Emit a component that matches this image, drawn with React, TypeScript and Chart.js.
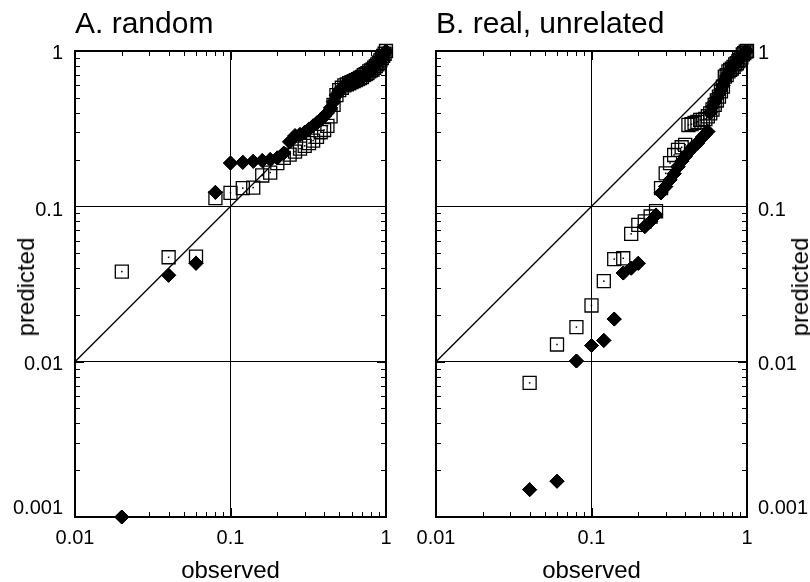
import React, { useEffect, useRef } from "react";
import { Chart, registerables } from "chart.js";

Chart.register(...registerables);

// ---------- data ----------
const observedRandom = [
  0.02, 0.04, 0.06, 0.08, 0.1, 0.12, 0.14, 0.16, 0.18, 0.2,
  0.22, 0.24, 0.26, 0.28, 0.3, 0.32, 0.34, 0.36, 0.38, 0.4,
  0.42, 0.44, 0.46, 0.48, 0.5, 0.52, 0.54, 0.56, 0.58, 0.6,
  0.62, 0.64, 0.66, 0.68, 0.7, 0.72, 0.74, 0.76, 0.78, 0.8,
  0.82, 0.84, 0.86, 0.88, 0.9, 0.92, 0.94, 0.96, 0.98, 1.0,
];
const randomSquares = [
  0.038, 0.047, 0.0475, 0.113, 0.122, 0.131, 0.132, 0.158, 0.165, 0.19,
  0.205, 0.215, 0.225, 0.235, 0.245, 0.255, 0.265, 0.28, 0.3, 0.31,
  0.33, 0.38, 0.45, 0.52, 0.56, 0.58, 0.6, 0.61, 0.62, 0.63,
  0.64, 0.65, 0.66, 0.67, 0.68, 0.7, 0.71, 0.72, 0.74, 0.75,
  0.76, 0.78, 0.8, 0.82, 0.84, 0.87, 0.9, 0.93, 0.96, 1.0,
];
const randomDiamonds = [
  0.001, 0.036, 0.043, 0.123, 0.19, 0.192, 0.195, 0.197, 0.2, 0.205,
  0.22, 0.26, 0.285, 0.29, 0.3, 0.315, 0.33, 0.345, 0.36, 0.38,
  0.4, 0.43, 0.47, 0.52, 0.55, 0.58, 0.6, 0.61, 0.62, 0.63,
  0.64, 0.65, 0.66, 0.67, 0.68, 0.7, 0.71, 0.72, 0.74, 0.75,
  0.77, 0.79, 0.81, 0.83, 0.85, 0.88, 0.91, 0.94, 0.97, 1.0,
];

const observedReal = [
  0.04, 0.06, 0.08, 0.1, 0.12, 0.14, 0.16, 0.18, 0.2,
  0.22, 0.24, 0.26, 0.28, 0.3, 0.32, 0.34, 0.36, 0.38, 0.4,
  0.42, 0.44, 0.46, 0.48, 0.5, 0.52, 0.54, 0.56, 0.58, 0.6,
  0.62, 0.64, 0.66, 0.68, 0.7, 0.72, 0.74, 0.76, 0.78, 0.8,
  0.82, 0.84, 0.86, 0.88, 0.9, 0.92, 0.94, 0.96, 0.98, 1.0,
];
const realSquares = [
  0.0073, 0.0129, 0.0167, 0.023, 0.033, 0.0457, 0.0463, 0.0665, 0.076,
  0.08, 0.086, 0.093, 0.131, 0.163, 0.19, 0.214, 0.231, 0.24, 0.249,
  0.334, 0.338, 0.345, 0.35, 0.36, 0.36, 0.365, 0.38, 0.397, 0.42,
  0.45, 0.48, 0.508, 0.55, 0.59, 0.684, 0.7, 0.74, 0.755, 0.77,
  0.79, 0.82, 0.834, 0.86, 0.88, 0.91, 0.95, 0.97, 0.99, 1.0,
];
const realDiamonds = [
  0.0015, 0.0017, 0.0101, 0.0127, 0.0137, 0.0188, 0.0372, 0.04, 0.043,
  0.074, 0.08, 0.088, 0.122, 0.134, 0.148, 0.162, 0.18, 0.195, 0.209,
  0.222, 0.237, 0.245, 0.255, 0.268, 0.281, 0.292, 0.303, 0.4, 0.438,
  0.47, 0.5, 0.53, 0.561, 0.6, 0.651, 0.69, 0.72, 0.755, 0.78,
  0.8, 0.834, 0.85, 0.87, 0.89, 0.92, 0.95, 0.97, 0.99, 1.0,
];

const diagonal = [0.01, 1];

const xMin = 0.01;
const xMax = 1;
const yMin = 0.001;
const yMax = 1;
const xTicks = [0.01, 0.1, 1];
const xTickLabels = ["0.01", "0.1", "1"];
const yTicks = [0.001, 0.01, 0.1, 1];
const yTickLabels = ["0.001", "0.01", "0.1", "1"];
const xMinorDecades = [0.01, 0.1];
const yMinorDecades = [0.001, 0.01, 0.1];
const xGridValues = [0.1];
const yGridValues = [0.01, 0.1];
const minorSteps = [2, 3, 4, 5, 6, 7, 8, 9];

const titleA = "A. random";
const titleB = "B. real, unrelated";
const xTitle = "observed";
const yTitle = "predicted";

const FONT = "'Liberation Sans', Arial, Helvetica, sans-serif";
const TICK_FONT_SIZE = 20;

// ---------- plugins ----------
function makeFramePlugin(side: "left" | "right") {
  // vertical nudge of each y tick label, in the order of yTicks
  const labelNudge = [-9, 3, 4, 2];
  return {
    id: "frameTicks",
    afterDatasetsDraw(chart: any) {
      const { ctx, chartArea } = chart;
      const { left, right, top, bottom } = chartArea;
      const xs = chart.scales.x;
      const ys = chart.scales.y;
      ctx.save();
      ctx.strokeStyle = "#000";
      ctx.lineWidth = 1;
      const major = 9;
      const minor = 5;
      ctx.beginPath();
      for (const v of xTicks) {
        const px = Math.round(xs.getPixelForValue(v)) + 0.5;
        ctx.moveTo(px, bottom); ctx.lineTo(px, bottom - major);
        ctx.moveTo(px, top); ctx.lineTo(px, top + major);
      }
      for (const d of xMinorDecades) {
        for (const m of minorSteps) {
          const v = d * m;
          if (v < xMin || v > xMax) continue;
          const q = Math.round(xs.getPixelForValue(v)) + 0.5;
          ctx.moveTo(q, bottom); ctx.lineTo(q, bottom - minor);
          ctx.moveTo(q, top); ctx.lineTo(q, top + minor);
        }
      }
      for (const v of yTicks) {
        const py = Math.round(ys.getPixelForValue(v)) + 0.5;
        ctx.moveTo(left, py); ctx.lineTo(left + major, py);
        ctx.moveTo(right, py); ctx.lineTo(right - major, py);
      }
      for (const d of yMinorDecades) {
        for (const m of minorSteps) {
          const v = d * m;
          if (v < yMin || v > yMax) continue;
          const q = Math.round(ys.getPixelForValue(v)) + 0.5;
          ctx.moveTo(left, q); ctx.lineTo(left + minor, q);
          ctx.moveTo(right, q); ctx.lineTo(right - minor, q);
        }
      }
      ctx.stroke();
      ctx.lineWidth = 2;
      ctx.strokeRect(left, top, right - left, bottom - top);

      // y tick labels
      ctx.fillStyle = "#000";
      ctx.font = `${TICK_FONT_SIZE}px ${FONT}`;
      ctx.textBaseline = "middle";
      ctx.textAlign = side === "left" ? "right" : "left";
      const lx = side === "left" ? left - 12 : right + 11;
      yTicks.forEach((v, i) => {
        const py = ys.getPixelForValue(v) + labelNudge[i];
        ctx.fillText(yTickLabels[i], lx, py);
      });
      ctx.restore();
    },
    afterDraw(chart: any) {
      const meta = chart.getDatasetMeta(1);
      const { ctx } = chart;
      ctx.save();
      ctx.fillStyle = "#000";
      meta.data.forEach((pt: any) => {
        ctx.fillRect(pt.x - 0.75, pt.y - 0.75, 1.5, 1.5);
      });
      chart.getDatasetMeta(0).data.forEach((pt: any) => pt.draw(ctx, chart.chartArea));
      ctx.restore();
    },
  };
}

function makeConfig(
  obs: number[],
  squares: number[],
  diamonds: number[],
  side: "left" | "right"
) {
  const tickFont = { family: FONT, size: TICK_FONT_SIZE };
  return {
    type: "scatter" as const,
    data: {
      datasets: [
        {
          label: "diamonds",
          data: obs.map((x, i) => ({ x, y: diamonds[i] })),
          pointStyle: "rectRot",
          pointRadius: 7,
          backgroundColor: "#000",
          borderColor: "#000",
          borderWidth: 1,
          clip: false,
        },
        {
          label: "squares",
          data: obs.map((x, i) => ({ x, y: squares[i] })),
          pointStyle: "rect",
          pointRadius: 9.2,
          backgroundColor: "rgba(0,0,0,0)",
          borderColor: "#000",
          borderWidth: 1.3,
          clip: false,
        },
        {
          label: "diagonal",
          data: diagonal.map((v) => ({ x: v, y: v })),
          showLine: true,
          pointRadius: 0,
          borderColor: "#000",
          borderWidth: 1.3,
          fill: false,
        },
      ],
    },
    options: {
      animation: false,
      responsive: false,
      maintainAspectRatio: false,
      events: [],
      layout: {
        padding: side === "left"
          ? { top: 51, right: 19, left: 0, bottom: 0 }
          : { top: 51, right: 0, left: 31, bottom: 0 },
      },
      plugins: {
        legend: { display: false },
        tooltip: { enabled: false },
        title: { display: false },
      },
      scales: {
        x: {
          type: "logarithmic",
          position: "bottom",
          min: xMin,
          max: xMax,
          afterBuildTicks: (s: any) => {
            s.ticks = xTicks.map((v) => ({ value: v }));
          },
          afterFit: (s: any) => {
            s.height = 65;
          },
          ticks: {
            autoSkip: false,
            maxRotation: 0,
            color: "#000",
            font: tickFont,
            padding: 9,
            callback: (_v: any, i: number) => xTickLabels[i],
          },
          grid: {
            drawTicks: false,
            lineWidth: 1,
            color: (c: any) =>
              c.tick && xGridValues.includes(c.tick.value) ? "#000" : "rgba(0,0,0,0)",
          },
          border: { display: false },
        },
        y: {
          type: "logarithmic",
          position: side,
          min: yMin,
          max: yMax,
          afterBuildTicks: (s: any) => {
            s.ticks = yTicks.map((v) => ({ value: v }));
          },
          afterFit: (s: any) => {
            s.width = side === "left" ? 75 : 63;
          },
          ticks: {
            display: false,
          },
          grid: {
            drawTicks: false,
            lineWidth: 1,
            color: (c: any) =>
              c.tick && yGridValues.includes(c.tick.value) ? "#000" : "rgba(0,0,0,0)",
          },
          border: { display: false },
        },
      },
    },
    plugins: [makeFramePlugin(side)],
  };
}

function Panel(props: {
  obs: number[];
  squares: number[];
  diamonds: number[];
  side: "left" | "right";
}) {
  const ref = useRef<HTMLCanvasElement | null>(null);
  useEffect(() => {
    if (!ref.current) return;
    const chart = new Chart(
      ref.current,
      makeConfig(props.obs, props.squares, props.diamonds, props.side) as any
    );
    return () => chart.destroy();
  }, []);
  return (
    <canvas
      ref={ref}
      width={405}
      height={582}
      style={{ width: 405, height: 582, display: "block" }}
    />
  );
}

const textBase: React.CSSProperties = {
  position: "absolute",
  fontFamily: FONT,
  color: "#000",
  whiteSpace: "nowrap",
  lineHeight: 1,
};

export default function App() {
  return (
    <div
      style={{
        position: "fixed",
        left: 0,
        top: 0,
        width: 810,
        height: 582,
        background: "#fff",
        overflow: "hidden",
      }}
    >
      <div style={{ position: "absolute", left: 0, top: 0 }}>
        <Panel obs={observedRandom} squares={randomSquares} diamonds={randomDiamonds} side="left" />
      </div>
      <div style={{ position: "absolute", left: 405, top: 0 }}>
        <Panel obs={observedReal} squares={realSquares} diamonds={realDiamonds} side="right" />
      </div>

      <div style={{ ...textBase, left: 75, top: 8, fontSize: 30 }}>{titleA}</div>
      <div style={{ ...textBase, left: 436, top: 8, fontSize: 30 }}>{titleB}</div>

      <div style={{ ...textBase, left: 230.5, top: 570, fontSize: 24, transform: "translate(-50%, -50%)" }}>
        {xTitle}
      </div>
      <div style={{ ...textBase, left: 591.5, top: 570, fontSize: 24, transform: "translate(-50%, -50%)" }}>
        {xTitle}
      </div>

      <div style={{ ...textBase, left: 26, top: 287, fontSize: 24, transform: "translate(-50%, -50%) rotate(-90deg)" }}>
        {yTitle}
      </div>
      <div style={{ ...textBase, left: 800, top: 287, fontSize: 24, transform: "translate(-50%, -50%) rotate(-90deg)" }}>
        {yTitle}
      </div>
    </div>
  );
}
